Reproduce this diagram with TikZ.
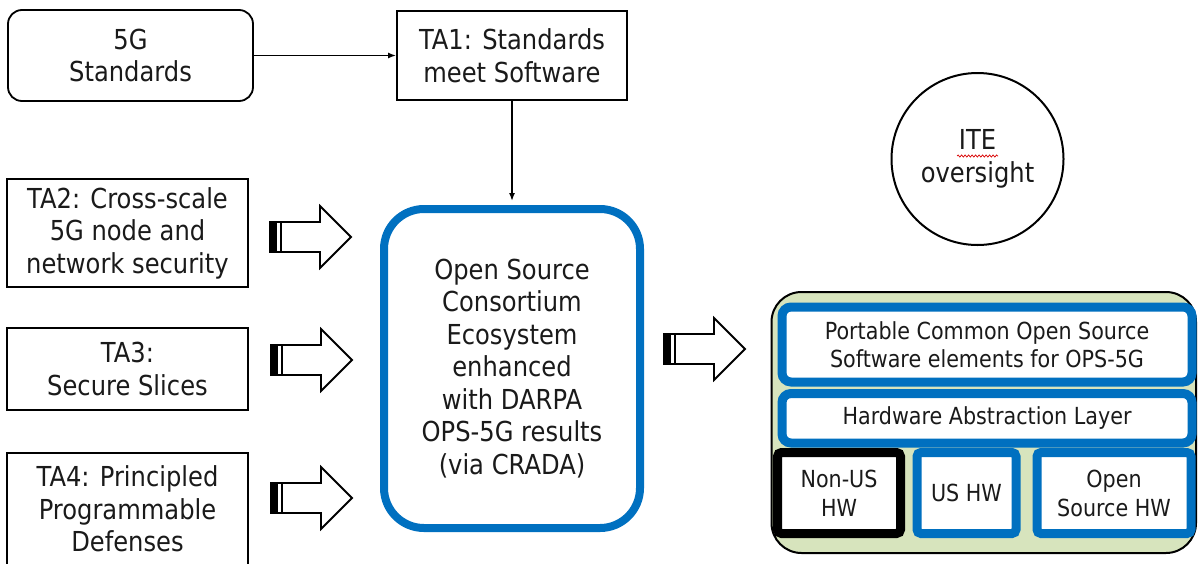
\documentclass[tikz,border=0pt]{standalone}
\usepackage{fontspec}
\setmainfont{DejaVu Sans}[FakeStretch=0.88]
\usetikzlibrary{arrows.meta,decorations.pathmorphing}
\definecolor{opsblue}{RGB}{0,112,192}
\definecolor{olivebg}{RGB}{215,228,189}
\definecolor{txt}{RGB}{26,26,26}
\begin{document}
\begin{tikzpicture}[x=1pt,y=-1pt,
  bigtext/.style={font=\fontsize{27.5}{32.5}\selectfont},
  smalltext/.style={font=\fontsize{23.5}{28}\selectfont},
  box/.style={draw=black, line width=1.8pt, align=center, inner sep=0pt, text=txt, bigtext},
  bluebox/.style={draw=opsblue, fill=white, line width=9pt, rounded corners=9pt, align=center, inner sep=0pt, text=txt, smalltext},
  hwbox/.style={fill=white, line width=9pt, rounded corners=4pt, align=center, inner sep=0pt, text=txt, font=\fontsize{23.5}{29}\selectfont},
  link/.style={line width=1.5pt, -{Latex[length=8pt,width=6pt]}},
  striped/.pic={
    \draw[line width=1.8pt, fill=white, line join=miter] (0,-15) -- (50,-15) -- (50,-31) -- (81,0) -- (50,31) -- (50,15) -- (0,15) -- cycle;
    \fill[black] (0,-15) rectangle (7,15);
    \draw[line width=1.6pt] (11,-15) -- (11,15);
  }]
\useasboundingbox (0,0) rectangle (1199,563);
\fill[white] (0,0) rectangle (1199,563);

% left column
\node[box, rounded corners=14pt, minimum width=245pt, minimum height=91pt] (g5) at (130.5,55.5) {5G\\Standards};
\node[box, minimum width=230pt, minimum height=89pt] (ta1) at (512,55.5) {TA1: Standards\\meet Software};
\node[box, minimum width=241pt, minimum height=108pt] (ta2) at (127.5,233) {TA2: Cross-scale\\5G node and\\network security};
\node[box, minimum width=241pt, minimum height=82pt] (ta3) at (127.5,369) {TA3:\\Secure Slices};
\node[box, minimum width=241pt, minimum height=112pt] (ta4) at (127.5,509) {TA4: Principled\\Programmable\\Defenses};

% central ecosystem
\node[draw=opsblue, line width=8pt, rounded corners=40pt, minimum width=256pt, minimum height=319pt, align=center, inner sep=0pt, text=txt, bigtext] (eco) at (512,368.5)
  {Open Source\\Consortium\\Ecosystem\\enhanced\\with DARPA\\OPS-5G results\\(via CRADA)};

\draw[link] (g5.east) -- (ta1.west);
\draw[link, shorten >=4pt] (ta1.south) -- (eco.north);

% ITE oversight
\node[draw=black, line width=2pt, circle, minimum size=172pt, inner sep=0pt, align=center, text=txt, bigtext] (ite) at (977.5,159) {ITE\\oversight};
\draw[red!85!black, line width=0.7pt, decorate, decoration={snake, amplitude=1.1pt, segment length=3.5pt}] (957,156) -- (998,156);

% block arrows
\coordinate (a2) at (270,237);
\coordinate (a3) at (271,360);
\coordinate (a4) at (271,498);
\coordinate (a5) at (664,349);
\pic at (a2) {striped};
\pic at (a3) {striped};
\pic at (a4) {striped};
\pic at (a5) {striped};

% platform stack
\node[draw=black, fill=olivebg, line width=2pt, rounded corners=30pt, minimum width=424.5pt, minimum height=261pt, inner sep=0pt] (plat) at (983.75,422.5) {};
\node[bluebox, minimum width=410pt, minimum height=75pt] (pcos) at (987,344.5) {Portable Common Open Source\\Software elements for OPS-5G};
\node[bluebox, minimum width=410pt, minimum height=49.5pt] (hal) at (987,418.25) {Hardware Abstraction Layer};
\node[hwbox, draw=black, minimum width=123pt, minimum height=81pt] (nonus) at (839,493) {Non-US\\HW};
\node[hwbox, draw=opsblue, minimum width=99pt, minimum height=81pt] (ushw) at (966.5,493) {US HW};
\node[hwbox, draw=opsblue, minimum width=154pt, minimum height=81pt] (oshw) at (1114,493) {Open\\Source HW};
\end{tikzpicture}
\end{document}
